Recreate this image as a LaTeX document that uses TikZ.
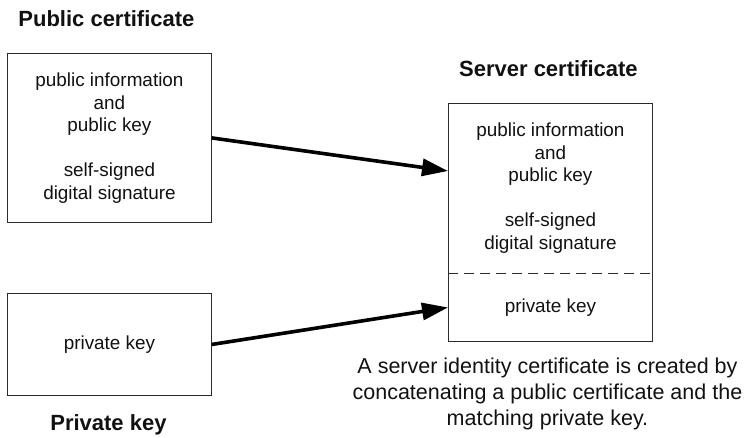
\documentclass[tikz,border=0pt]{standalone}
\usepackage{fontspec}
\setmainfont{Liberation Sans}
\usetikzlibrary{arrows.meta, positioning, calc}
\definecolor{certInk}{HTML}{111111}
\definecolor{certLine}{HTML}{2B2B2B}
\newlength{\certBoxW}
\setlength{\certBoxW}{204pt}
\newlength{\certKeyH}
\setlength{\certKeyH}{68pt}
\tikzset{
  certbox/.style={
    draw=certLine, line width=0.9pt, minimum width=\certBoxW,
    minimum height=#1, inner sep=0pt, anchor=north west, align=center,
    text=certInk, font=\fontsize{18.9}{22.5}\selectfont,
  },
  certtext/.style={
    inner sep=0pt, align=center, text=certInk,
    font=\fontsize{18.9}{22.5}\selectfont,
  },
  certtitle/.style={
    inner sep=0pt, anchor=base, text=certInk,
    font=\bfseries\fontsize{22}{26}\selectfont,
  },
  certnote/.style={
    inner sep=0pt, anchor=north, align=center, text=certInk,
    font=\fontsize{21.5}{26}\selectfont,
  },
  certarrow/.style={
    -{Triangle[length=26pt, width=17pt]}, draw=black, line width=3.6pt,
  },
  certcut/.style={
    draw=certLine, line width=1pt, dash pattern=on 10.2pt off 5.8pt,
  },
}

\begin{document}
\begin{tikzpicture}[x=1pt, y=-1pt]
\useasboundingbox (0,0) rectangle (754,438);

% Inputs ------------------------------------------------------------------
\node[certbox=169pt] (pub) at (7,53) {%
  public information\\and\\public key\\[22.5pt]self-signed\\digital signature};
\node[certtitle] (pubtitle) at ($(pub.north)+(-3,-26)$) {Public certificate};

\node[certbox=102pt] (priv) at (7,293) {private key};
\node[certtitle] (privtitle) at ($(priv.south)+(-1,35)$) {Private key};

% Combined certificate ----------------------------------------------------
\node[certbox=238pt] (srv) at (448,103) {};
\node[certtitle] (srvtitle) at ($(srv.north)+(-2,-26)$) {Server certificate};
\coordinate (srvcut) at ($(srv.north)+(0,170)$);
\draw[certcut] (srv.west |- srvcut) -- (srv.east |- srvcut);
\node[certtext] (srvinfo) at ($(srv.north)!0.5!(srvcut)$) {%
  public information\\and\\public key\\[22.5pt]self-signed\\digital signature};
\node[certtext] (srvkey) at ($(srvcut)!0.5!(srv.south)$) {private key};

\node[certnote] (note) at ($(srv.south)+(-3,16)$) {%
  A server identity certificate is created by\\
  concatenating a public certificate and the\\
  matching private key.};

% Flow --------------------------------------------------------------------
\coordinate (srvin) at ($(srv.west |- srvinfo)+(0,-17)$);
\draw[certarrow] (pub.east) -- (srvin);
\draw[certarrow] (priv.east) -- (srv.west |- srvkey);

\end{tikzpicture}
\end{document}
